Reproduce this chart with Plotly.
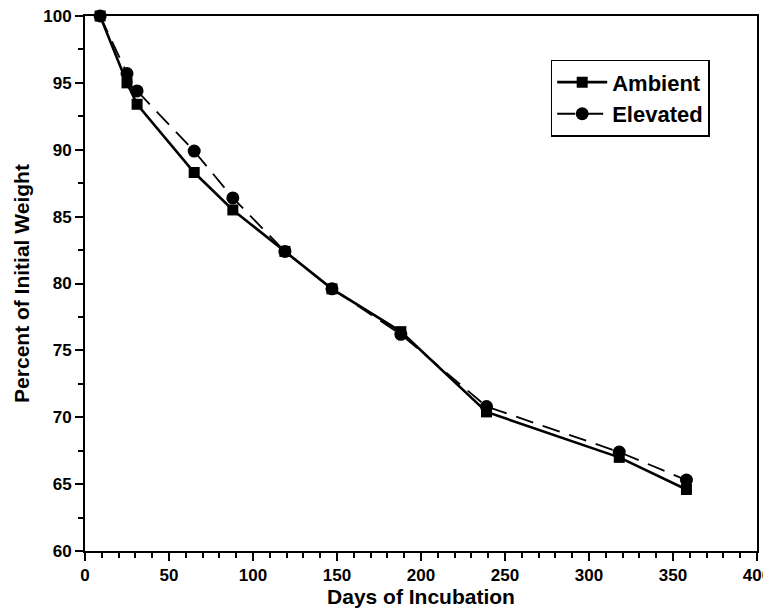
import plotly.graph_objects as go

days = [9, 25, 31, 65, 88, 119, 147, 188, 239, 318, 358]
ambient = [100, 95.0, 93.4, 88.3, 85.5, 82.4, 79.6, 76.4, 70.4, 67.0, 64.6]
elevated = [100, 95.7, 94.4, 89.9, 86.4, 82.4, 79.6, 76.2, 70.8, 67.4, 65.3]

x_ticks = [0, 50, 100, 150, 200, 250, 300, 350, 400]
y_ticks = [60, 65, 70, 75, 80, 85, 90, 95, 100]

font = "Liberation Sans, Arial, sans-serif"

fig = go.Figure()
fig.add_trace(go.Scatter(
    x=days, y=ambient, name="<b>Ambient</b>", mode="lines+markers",
    line=dict(color="black", width=2.6),
    marker=dict(symbol="square", size=11, color="black"),
    cliponaxis=False,
))
fig.add_trace(go.Scatter(
    x=days, y=elevated, name="<b>Elevated</b>", mode="lines+markers",
    line=dict(color="black", width=1.8, dash="18px,10px"),
    marker=dict(symbol="circle", size=13, color="black"),
    cliponaxis=False,
))

axis_common = dict(
    showline=True, linecolor="black", linewidth=2, mirror=True,
    ticks="outside", tickcolor="black", tickwidth=2, ticklen=8,
    showgrid=False, zeroline=False, automargin=False,
    ticklabeloverflow="allow",
    tickfont=dict(family=font, size=17, color="black", weight="bold"),
)

fig.update_xaxes(
    range=[0, 400], tickvals=x_ticks,
    minor=dict(dtick=10, ticks="outside", ticklen=5, tickwidth=1.5, tickcolor="black"),
    title=dict(text="<b>Days of Incubation</b>", font=dict(family=font, size=21, color="black"), standoff=4),
    **axis_common,
)
fig.update_yaxes(
    range=[60, 100], tickvals=y_ticks,
    minor=dict(dtick=2.5, ticks="outside", ticklen=5, tickwidth=1.5, tickcolor="black"),
    title=dict(text="<b>Percent of Initial Weight</b>", font=dict(family=font, size=21, color="black"), standoff=8),
    **axis_common,
)

# page body has an 8px default margin; keep the plot box where the reference has it
fig.update_layout(
    width=771, height=601,
    margin=dict(l=77, r=22, t=8, b=58),
    plot_bgcolor="white", paper_bgcolor="white",
    showlegend=True,
    legend=dict(
        x=0.693, y=0.918, xanchor="left", yanchor="top",
        bordercolor="black", borderwidth=1.5, bgcolor="white",
        font=dict(family=font, size=22, color="black"),
        itemwidth=50, tracegroupgap=4,
    ),
)

fig.write_html("out.html")
